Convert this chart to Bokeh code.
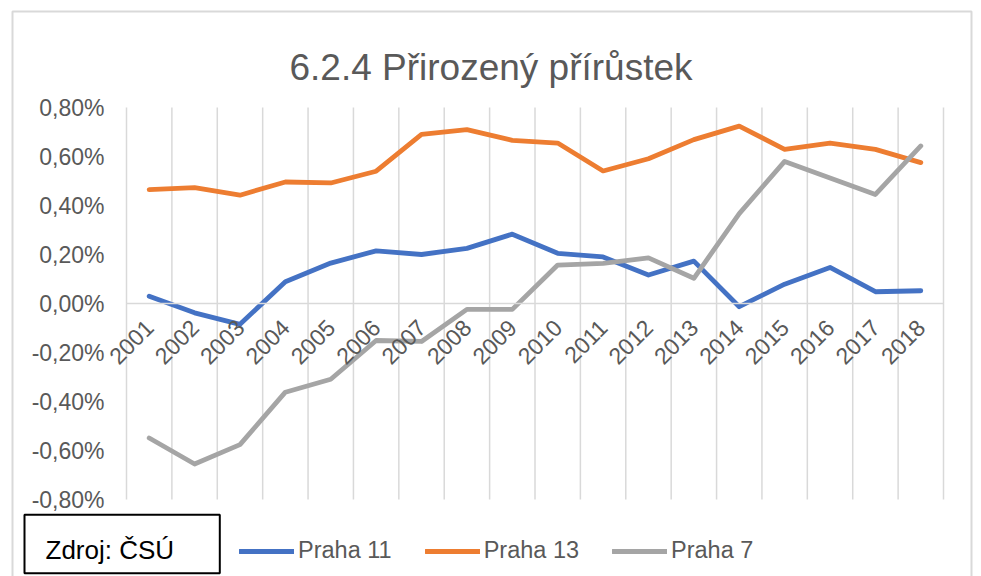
from bokeh.plotting import figure
from bokeh.models import (Range1d, FixedTicker, CustomJSTickFormatter, Legend, LegendItem,
                          Label, BoxAnnotation, ColumnDataSource)
from bokeh.embed import file_html
from bokeh.resources import INLINE
from math import pi

years = ["2001", "2002", "2003", "2004", "2005", "2006", "2007", "2008", "2009",
         "2010", "2011", "2012", "2013", "2014", "2015", "2016", "2017", "2018"]
praha11 = [0.030, -0.038, -0.085, 0.089, 0.165, 0.215, 0.200, 0.225, 0.283,
           0.205, 0.190, 0.116, 0.173, -0.013, 0.079, 0.147, 0.048, 0.052]
praha13 = [0.465, 0.473, 0.442, 0.496, 0.492, 0.540, 0.690, 0.710, 0.666,
           0.655, 0.541, 0.591, 0.669, 0.724, 0.629, 0.655, 0.629, 0.575]
praha7 = [-0.549, -0.655, -0.576, -0.362, -0.309, -0.151, -0.155, -0.024, -0.024,
          0.157, 0.164, 0.186, 0.103, 0.367, 0.580, 0.512, 0.445, 0.643]
y_ticks = [-0.8, -0.6, -0.4, -0.2, 0.0, 0.2, 0.4, 0.6, 0.8]
series_names = ["Praha 11", "Praha 13", "Praha 7"]
colors = ["#4472C4", "#ED7D31", "#A5A5A5"]

FONT = "Liberation Sans"
GREY_TXT = "#595959"
GRID = "#d9d9d9"

W, H = 981, 576
# the frame fills the canvas; plot area maps x 0..18 -> px 126..943, y -0.8..0.8 -> px 499..107
KX = 817 / 18.0
KY = 392 / 1.6
X0 = -126 / KX
Y_TOP = 0.8 + 107 / KY


def dx(sx):
    return X0 + sx / KX


def dy(sy):
    return Y_TOP - sy / KY


p = figure(width=W, height=H, output_backend="svg", toolbar_location=None,
           x_range=Range1d(dx(0), dx(W)), y_range=Range1d(dy(H), dy(0)),
           min_border=0, tools="")
p.outline_line_color = None
p.background_fill_color = "white"
p.border_fill_color = "white"

n = len(years)
xs = [i + 0.5 for i in range(n)]
src = ColumnDataSource(dict(x=xs, p11=praha11, p13=praha13, p7=praha7))

# outer chart border
p.add_layout(BoxAnnotation(left=dx(12), right=dx(971), top=dy(11), bottom=dy(H + 20),
                           fill_alpha=0, line_color=GRID, line_alpha=1, line_width=2,
                           level="underlay"))

# vertical gridlines between categories (Excel style), limited to the plot area
p.xgrid.visible = False
p.ygrid.visible = False
bounds = list(range(n + 1))
p.segment(x0=bounds, x1=bounds, y0=[y_ticks[0]] * len(bounds), y1=[y_ticks[-1]] * len(bounds),
          line_color=GRID, line_width=1.5)

# x axis at zero
xa = p.xaxis[0]
xa.fixed_location = 0
xa.bounds = (0, n)
xa.ticker = FixedTicker(ticks=xs)
xa.major_label_overrides = {x: y for x, y in zip(xs, years)}
xa.major_label_orientation = pi / 4
xa.axis_line_color = GRID
xa.axis_line_width = 1.5
xa.major_tick_line_color = None
xa.minor_tick_line_color = None
xa.major_tick_in = 0
xa.major_tick_out = 0
xa.major_label_text_font = FONT
xa.major_label_text_font_size = "23px"
xa.major_label_text_color = GREY_TXT
xa.major_label_standoff = 20

ya = p.yaxis[0]
ya.fixed_location = 0
ya.bounds = (y_ticks[0], y_ticks[-1])
ya.ticker = FixedTicker(ticks=y_ticks)
ya.formatter = CustomJSTickFormatter(code="return tick.toFixed(2).replace('.', ',') + '%';")
ya.axis_line_color = None
ya.major_tick_line_color = None
ya.minor_tick_line_color = None
ya.major_tick_in = 0
ya.major_tick_out = 0
ya.major_label_text_font = FONT
ya.major_label_text_font_size = "23px"
ya.major_label_text_color = GREY_TXT
ya.major_label_standoff = 22

renderers = []
for col, c in zip(["p11", "p13", "p7"], colors):
    r = p.line("x", col, source=src, line_color=c, line_width=4.8,
               line_cap="round", line_join="round")
    renderers.append(r)

legend = Legend(items=[LegendItem(label=nm, renderers=[r]) for nm, r in zip(series_names, renderers)],
                orientation="horizontal", location=(239, 12),
                glyph_width=55, glyph_height=24, label_height=24, label_standoff=4, spacing=33,
                padding=0, margin=0, border_line_color=None, background_fill_alpha=0,
                label_text_font=FONT, label_text_font_size="23.5px", label_text_color=GREY_TXT)
p.add_layout(legend, "center")

# title
p.add_layout(Label(x=dx(490.5), y=dy(66.7), text="6.2.4 Přirozený přírůstek", text_align="center",
                   text_baseline="alphabetic", text_font=FONT, text_font_size="37px",
                   text_color=GREY_TXT))

# source box
p.add_layout(BoxAnnotation(left=dx(24), right=dx(219.3), top=dy(514.3), bottom=dy(572.7),
                           fill_color="white", fill_alpha=1, line_color="black", line_alpha=1,
                           line_width=2))
p.add_layout(Label(x=dx(45), y=dy(549), text="Zdroj: ČSÚ", text_align="left",
                   text_baseline="alphabetic", text_font=FONT, text_font_size="26px",
                   text_color="black"))

open("out.html", "w").write(file_html(p, INLINE))
